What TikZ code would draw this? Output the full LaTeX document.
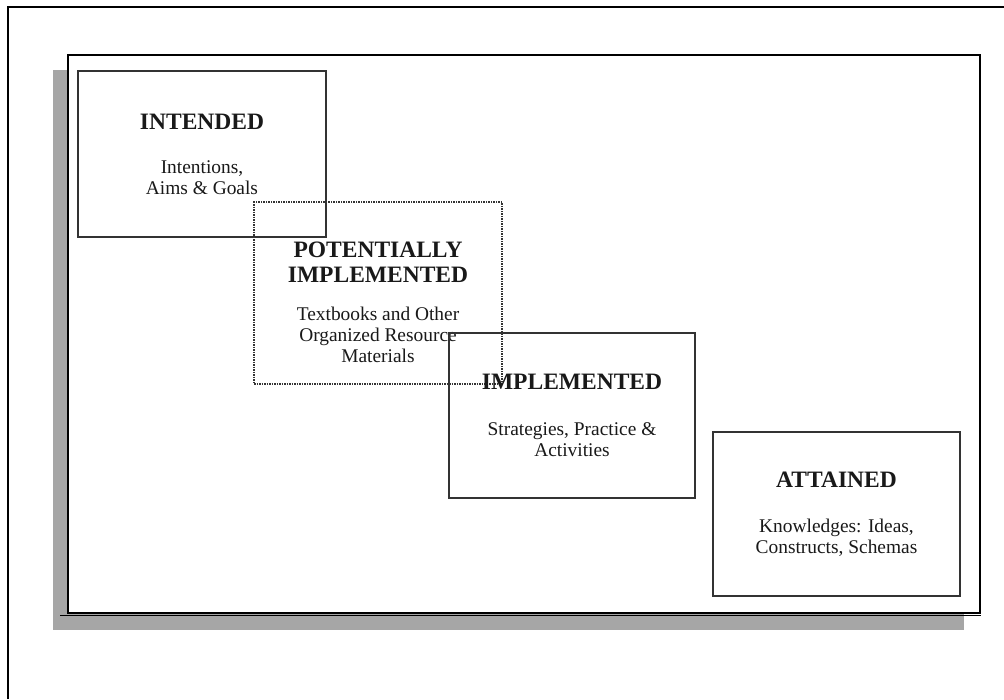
\documentclass[tikz,border=0pt]{standalone}
\usepackage{fontspec}
\setmainfont{Liberation Serif}
\usetikzlibrary{positioning}
\newcommand{\stagetitle}{\fontsize{23.5}{25}\selectfont\bfseries}
\newcommand{\stagebody}{\fontsize{19.4}{21}\selectfont}
\tikzset{stage/.style={rectangle,draw=black!80,line width=1.1pt,align=center,inner sep=0pt,text=black!90,font=\stagebody}}
\tikzset{maybe/.style={stage,dash pattern=on 1.5pt off 1pt}}
\tikzset{stagetext/.style={align=center,inner sep=0pt,text=black!90,font=\stagebody}}
\tikzset{shade/.style={fill=black!35,draw=none}}
\begin{document}
\begin{tikzpicture}[x=1pt,y=-1pt]
\useasboundingbox (0,0) rectangle (1004,699);
% page frame
\draw[line width=2.2pt] (8,699) -- (8,7) -- (1004,7);
% canvas with shadow
\fill[shade] (53,70) rectangle (964,630);
\draw[fill=white,line width=1.2pt] (68,55) rectangle (980,613);
\draw[line width=1pt] (60,615.5) -- (981,615.5);
% stages
\node (intended) [stage,minimum width=248pt,minimum height=166pt] at (202,154)
  {{\stagetitle INTENDED}\\[23pt]Intentions,\\Aims \& Goals};
\node (potential) [maybe,minimum width=248pt,minimum height=182pt] at (378,293) {};
\node (potentialtext) [stagetext] at (378,302)
  {{\stagetitle POTENTIALLY}\\[4pt]{\stagetitle IMPLEMENTED}\\[17pt]Textbooks and Other\\Organized Resource\\Materials};
\node (implemented) [stage,minimum width=246pt,minimum height=165pt] at (572,415.5)
  {{\stagetitle IMPLEMENTED}\\[25pt]Strategies, Practice \&\\Activities};
\node (attained) [stage,minimum width=247pt,minimum height=164pt] at (836.5,514)
  {{\stagetitle ATTAINED}\\[24pt]Knowledges: Ideas,\\Constructs, Schemas};
\end{tikzpicture}
\end{document}
